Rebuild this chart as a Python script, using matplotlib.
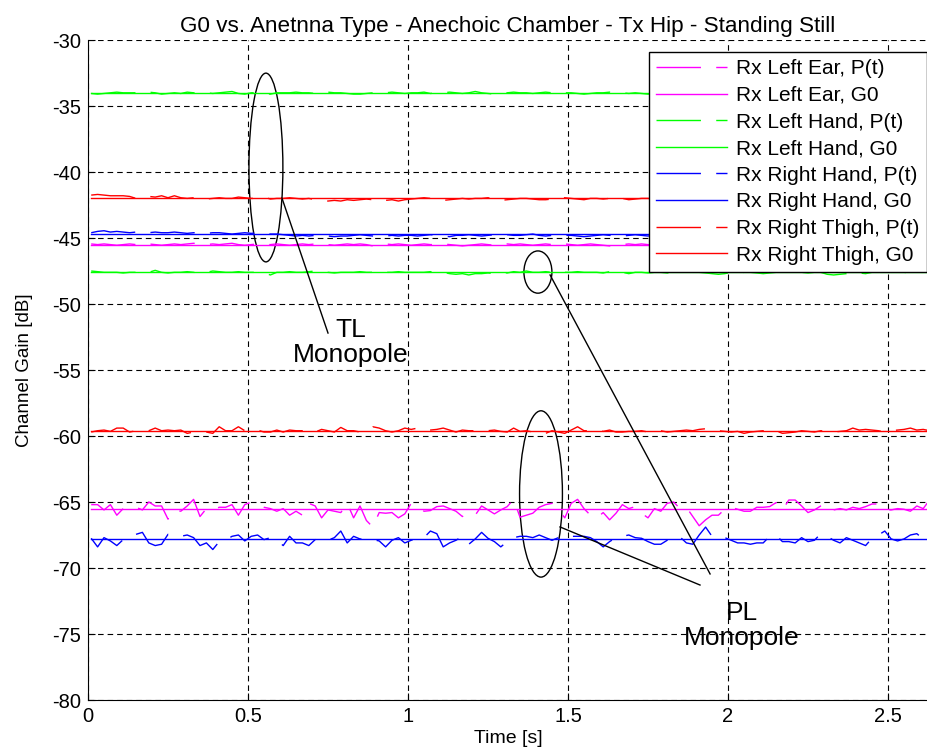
import numpy as np
import matplotlib
matplotlib.use('Agg')
import matplotlib.pyplot as plt
from matplotlib.patches import Ellipse

plt.rcParams['font.family'] = ['Liberation Sans', 'DejaVu Sans']
plt.rcParams['axes.unicode_minus'] = False

# sampling of the P(t) traces [s]
t_start = 0.01
dt = 0.02

names = ['Left Ear', 'Left Hand', 'Right Hand', 'Right Thigh']
colors = ['#ff00ff', '#00ff00', '#0000ff', '#ff0000']

# G0 [dB] for the TL monopole and the PL monopole
g0_tl = [-45.5, -34.0, -44.7, -42.0]
g0_pl = [-65.55, -47.6, -67.83, -59.6]

# P(t) [dB], TL monopole
ear_tl = [-45.45,-45.5,-45.45,-45.5,-45.55,-45.5,-45.45,-45.5,-45.4,-45.45,-45.5,-45.55,-45.5,-45.45,-45.5,-45.45,-45.4,-45.45,-45.5,-45.45,
          -45.5,-45.45,-45.4,-45.5,-45.55,-45.5,-45.45,-45.5,-45.5,-45.45,-45.5,-45.55,-45.5,-45.45,-45.5,-45.45,-45.4,-45.5,-45.55,-45.5,
          -45.45,-45.5,-45.45,-45.5,-45.6,-45.5,-45.45,-45.5,-45.45,-45.5,-45.55,-45.5,-45.45,-45.5,-45.5,-45.45,-45.5,-45.55,-45.6,-45.55,
          -45.5,-45.45,-45.5,-45.55,-45.5,-45.45,-45.5,-45.45,-45.5,-45.55,-45.5,-45.45,-45.5,-45.5,-45.45,-45.5,-45.55,-45.5,-45.45,-45.5,
          -45.55,-45.6,-45.55,-45.5,-45.45,-45.5,-45.45,-45.5,-45.55,-45.5,-45.45,-45.5,-45.5,-45.45,-45.5,-45.55,-45.5,-45.45,-45.5,-45.45,
          -45.5,-45.55,-45.5,-45.45,-45.5,-45.5,-45.45,-45.5,-45.55,-45.5,-45.45,-45.5,-45.45,-45.5,-45.55,-45.5,-45.45,-45.5,-45.5,-45.45,
          -45.5,-45.55,-45.5,-45.45,-45.5,-45.45,-45.5,-45.55,-45.5,-45.45,-45.5,-45.5]
hand_l_tl = [-34.05,-34.1,-34.05,-34.0,-33.95,-34.0,-34.0,-34.0,-34.05,-33.95,-34.0,-34.1,-34.05,-34.0,-34.05,-33.95,-34.0,-34.0,-34.0,-34.05,
             -34.0,-33.95,-33.9,-34.05,-34.1,-34.0,-34.0,-34.05,-34.1,-34.0,-34.0,-34.0,-33.95,-34.0,-34.0,-34.05,-34.0,-33.95,-34.0,-34.0,
             -34.05,-34.1,-34.1,-34.05,-34.0,-34.0,-34.0,-33.95,-34.0,-34.05,-34.0,-34.0,-33.95,-34.05,-34.0,-34.0,-33.95,-34.0,-34.05,-34.0,
             -33.9,-34.0,-34.05,-34.1,-34.0,-34.0,-33.95,-34.0,-34.0,-34.05,-34.0,-33.95,-34.0,-34.05,-34.0,-34.0,-34.05,-34.1,-34.05,-34.0,
             -34.0,-33.95,-34.0,-34.0,-34.05,-34.0,-34.05,-34.1,-34.05,-34.0,-34.0,-33.95,-34.0,-34.0,-34.05,-34.0,-34.0,-33.95,-34.0,-34.05,
             -34.1,-34.05,-34.0,-34.0,-34.0,-33.95,-34.0,-34.05,-34.0,-34.0,-34.05,-34.0,-33.95,-34.0,-34.0,-34.05,-34.1,-34.05,-34.0,-34.0,
             -34.0,-33.95,-34.0,-34.05,-34.0,-34.0,-34.05,-34.0,-33.95,-34.0,-34.0,-34.05]
hand_r_tl = [-44.6,-44.5,-44.45,-44.55,-44.5,-44.55,-44.6,-44.55,-44.6,-44.6,-44.55,-44.6,-44.6,-44.55,-44.6,-44.65,-44.6,-44.6,-44.65,-44.6,
             -44.6,-44.65,-44.7,-44.65,-44.6,-44.65,-44.6,-44.65,-44.7,-44.7,-44.75,-44.8,-44.85,-44.8,-44.85,-44.8,-44.8,-44.85,-44.9,-44.85,
             -44.85,-44.8,-44.75,-44.8,-44.85,-44.9,-44.85,-44.8,-44.85,-44.8,-44.8,-44.85,-44.8,-44.75,-44.8,-44.85,-44.9,-44.8,-44.8,-44.75,
             -44.8,-44.85,-44.8,-44.75,-44.7,-44.75,-44.8,-44.8,-44.75,-44.7,-44.8,-44.85,-44.8,-44.75,-44.8,-44.8,-44.85,-44.9,-44.85,-44.8,
             -44.75,-44.8,-44.8,-44.85,-44.8,-44.75,-44.8,-44.85,-44.8,-44.8,-44.75,-44.8,-44.85,-44.9,-44.85,-44.8,-44.8,-44.75,-44.8,-44.85,
             -44.8,-44.8,-44.75,-44.8,-44.85,-44.8,-44.8,-44.85,-44.9,-44.85,-44.8,-44.75,-44.8,-44.8,-44.85,-44.8,-44.75,-44.8,-44.85,-44.8,
             -44.8,-44.75,-44.8,-44.85,-44.8,-44.8,-44.75,-44.8,-44.85,-44.8,-44.8,-44.75]
thigh_tl = [-41.75,-41.7,-41.75,-41.8,-41.8,-41.8,-41.85,-42.0,-41.95,-41.85,-41.9,-41.8,-41.95,-41.8,-41.95,-42.0,-41.95,-42.0,-42.05,-42.0,
            -41.95,-42.0,-42.0,-41.9,-41.95,-42.0,-42.0,-41.9,-42.05,-42.0,-42.0,-41.95,-42.0,-42.05,-42.0,-42.1,-42.15,-42.2,-42.15,-42.2,
            -42.1,-42.15,-42.1,-42.05,-42.1,-42.0,-42.15,-42.1,-42.2,-42.1,-42.05,-42.0,-41.95,-42.0,-42.1,-42.15,-42.1,-42.05,-42.0,-42.05,
            -42.0,-42.0,-41.95,-42.05,-42.15,-42.1,-42.05,-42.0,-42.0,-42.05,-42.1,-42.1,-42.05,-42.0,-41.95,-42.0,-42.05,-42.1,-42.0,-42.0,
            -42.05,-42.0,-41.95,-42.0,-42.1,-42.05,-42.0,-42.0,-42.05,-42.1,-42.05,-42.0,-42.0,-41.95,-42.0,-42.05,-42.0,-42.0,-42.1,-42.05,
            -42.0,-41.95,-42.0,-42.05,-42.0,-42.0,-42.05,-42.1,-42.05,-42.0,-42.0,-41.95,-42.0,-42.05,-42.0,-42.0,-42.1,-42.05,-42.0,-41.95,
            -42.0,-42.0,-42.05,-42.0,-41.95,-42.0,-42.05,-42.0,-42.0,-42.05,-42.0,-41.95]

# P(t) [dB], PL monopole
ear_pl = [-65.2,-65.2,-65.6,-65.2,-66.0,-65.5,-65.4,-65.4,-65.6,-65.0,-65.3,-65.3,-66.3,-65.6,-65.7,-65.3,-64.8,-66.1,-65.5,-65.6,
          -65.4,-65.4,-65.2,-66.0,-65.2,-65.0,-65.2,-65.4,-65.5,-65.7,-65.5,-66.0,-65.7,-66.0,-65.1,-65.3,-66.2,-65.6,-65.7,-65.8,
          -65.1,-66.2,-65.3,-66.4,-66.9,-65.8,
          -65.85,-65.8,-66.2,-65.9,-65.1,-65.3,-65.7,-65.65,-65.35,-65.3,-65.5,-65.7,-66.1,-65.8,-66.0,-65.3,-65.6,-65.9,-65.6,-65.35,
          -64.8,-66.15,-66.0,-65.85,-65.4,-65.2,-65.1,-65.6,-66.2,-65.1,-64.8,-65.5,-66.0,-66.2,-65.8,-66.35,-65.85,-65.2,-65.5,-65.35,
          -65.85,-66.2,-65.5,-65.7,
          -65.1,-65.0,-65.5,-65.4,-66.1,-66.8,-66.35,-66.0,-66.0,-65.55,-65.4,-65.55,-65.7,-65.7,-65.4,-65.4,-65.35,-65.05,-65.6,-64.85,
          -64.85,-65.3,-65.8,-65.6,-65.3,-65.15,-65.6,-65.5,-65.6,-65.4,-65.5,-65.35,-65.15,-65.15,-65.6,-65.6,-65.5,-65.55,-65.7,-65.3,
          -65.5,-64.85]
hand_l_pl = [-47.5,-47.55,-47.6,-47.6,-47.6,-47.65,-47.6,-47.6,-47.55,-47.6,-47.45,-47.6,-47.65,-47.6,-47.6,-47.55,-47.6,-47.65,-47.6,-47.5,
             -47.55,-47.6,-47.6,-47.55,-47.6,-47.6,-47.6,-47.65,-47.8,-47.6,-47.6,-47.55,-47.6,-47.6,-47.55,-47.5,-47.6,-47.6,-47.65,-47.6,
             -47.6,-47.6,-47.55,-47.6,-47.6,-47.65,-47.6,-47.6,-47.55,-47.6,-47.6,-47.6,-47.6,-47.55,-47.6,-47.6,-47.7,-47.75,-47.7,-47.8,
             -47.7,-47.7,-47.65,-47.7,-47.6,-47.65,-47.55,-47.6,-47.5,-47.6,-47.6,-47.55,-47.6,-47.65,-47.6,-47.6,-47.55,-47.6,-47.6,-47.6,
             -47.65,-47.55,-47.6,-47.6,-47.7,-47.6,-47.6,-47.65,-47.6,-47.6,-47.65,-47.6,-47.6,-47.55,-47.6,-47.6,-47.65,-47.7,-47.75,-47.7,
             -47.6,-47.65,-47.6,-47.6,-47.65,-47.7,-47.65,-47.6,-47.55,-47.6,-47.6,-47.6,-47.65,-47.6,-47.6,-47.75,-47.8,-47.75,-47.7,-47.6,
             -47.65,-47.7,-47.6,-47.6,-47.55,-47.6,-47.6,-47.6,-47.65,-47.6,-47.6,-47.55]
hand_r_pl = [-67.75,-68.4,-67.7,-67.95,-68.3,-67.85,-67.6,-67.45,-67.3,-68.1,-68.3,-68.2,-67.45,-67.6,-67.6,-67.5,-67.7,-68.3,-68.1,-68.6,
             -68.0,-67.9,-67.6,-67.5,-67.95,-67.6,-67.5,-67.85,-67.7,-67.9,-68.3,-67.6,-68.1,-68.1,-68.3,-67.85,-67.9,-67.9,-67.7,-67.2,
             -68.1,-67.6,-67.8,-67.8,-67.85,-67.95,
             -68.4,-67.9,-67.7,-68.1,-67.9,-67.7,-67.7,-67.2,-67.4,-68.4,-68.1,-67.9,-67.6,-68.2,-67.8,-67.3,-67.75,-68.0,-68.4,-68.0,
             -67.7,-67.6,-67.6,-67.7,-67.5,-67.7,-67.9,-67.7,-67.5,-67.6,-67.6,-67.6,-67.7,-68.0,-68.4,-68.0,-67.7,-67.6,-67.5,-67.7,
             -67.75,-68.0,-68.2,-68.2,
             -67.9,-67.6,-67.65,-68.1,-68.2,-67.5,-66.9,-67.6,-67.7,-67.7,-67.9,-68.1,-68.1,-68.2,-68.1,-68.1,-67.6,-67.5,-68.0,-68.0,
             -68.1,-67.7,-68.0,-67.9,-67.4,-67.6,-67.9,-68.1,-67.7,-67.9,-68.1,-68.3,-67.75,-67.5,-67.2,-67.8,-67.95,-67.8,-67.5,-67.4,
             -67.8,-68.1]
thigh_pl = [-59.7,-59.6,-59.55,-59.65,-59.4,-59.4,-59.7,-59.6,-59.6,-59.6,-59.4,-59.6,-59.55,-59.6,-59.55,-59.8,-59.7,-59.7,-59.7,-59.8,
            -59.3,-59.6,-59.6,-59.3,-59.6,-59.6,-59.55,-59.7,-59.7,-59.55,-59.7,-59.55,-59.6,-59.6,-59.5,-59.7,-59.5,-59.6,-59.7,-59.35,
            -59.6,-59.6,-59.7,-59.6,-59.3,-59.4,
            -59.6,-59.7,-59.6,-59.4,-59.5,-59.4,-59.6,-59.55,-59.5,-59.4,-59.55,-59.7,-59.55,-59.6,-59.6,-59.55,-59.6,-59.55,-59.65,-59.7,
            -59.4,-59.65,-59.6,-59.7,-59.8,-59.8,-59.6,-59.7,-59.8,-59.55,-59.3,-59.6,-59.6,-59.55,-59.65,-59.55,-59.7,-59.7,-59.65,-59.65,
            -59.6,-59.7,-59.7,-59.6,
            -59.7,-59.65,-59.6,-59.55,-59.6,-59.5,-59.45,-59.6,-59.6,-59.65,-59.7,-59.65,-59.8,-59.7,-59.65,-59.6,-59.7,-59.6,-59.8,-59.75,
            -59.7,-59.6,-59.65,-59.7,-59.6,-59.65,-59.7,-59.65,-59.6,-59.4,-59.55,-59.5,-59.55,-59.6,-59.7,-59.6,-59.55,-59.5,-59.4,-59.55,
            -59.5,-59.6]

p_tl = [ear_tl, hand_l_tl, hand_r_tl, thigh_tl]
p_pl = [ear_pl, hand_l_pl, hand_r_pl, thigh_pl]

fig = plt.figure(figsize=(9.28, 7.53), dpi=100)
ax = fig.add_axes([88/928, 53/753, 840/928, 660/753])

handles = []
labels = []
for i in range(4):
    c = colors[i]
    for tr in [p_tl[i], p_pl[i]]:
        t = t_start + dt*np.arange(len(tr))
        lp, = ax.plot(t, tr, color=c, lw=1.0, ls=(0, (32, 11)))
    tmax = t_start + dt*(len(p_tl[i]) - 1)
    for g in [g0_tl[i], g0_pl[i]]:
        lg, = ax.plot([t_start, tmax], [g, g], color=c, lw=1.0)
    handles += [lp, lg]
    labels += ['Rx ' + names[i] + ', P(t)', 'Rx ' + names[i] + ', G0']

# ellipses and callouts
ax.add_patch(Ellipse((0.556, -39.66), 0.106, 14.3, fill=False, ec='k', lw=1))
ax.add_patch(Ellipse((1.406, -47.58), 0.0875, 3.2, fill=False, ec='k', lw=1))
ax.add_patch(Ellipse((1.4156, -64.39), 0.134, 12.6, fill=False, ec='k', lw=1))
ax.plot([0.606, 0.75], [-41.97, -52.2], color='k', lw=1)
ax.plot([1.444, 1.944], [-47.8, -70.45], color='k', lw=1)
ax.plot([1.475, 1.9125], [-66.89, -71.29], color='k', lw=1)
ax.text(0.822, -52.95, 'TL\nMonopole', ha='center', va='center', fontsize=19, linespacing=1.05)
ax.text(2.044, -74.35, 'PL\nMonopole', ha='center', va='center', fontsize=19, linespacing=1.05)

ax.set_xlim(0, 2.625)
ax.set_ylim(-80, -30)
ax.set_xticks([0, 0.5, 1, 1.5, 2, 2.5])
ax.set_xticklabels(['0', '0.5', '1', '1.5', '2', '2.5'])
ax.set_yticks(np.arange(-80, -29, 5))
ax.grid(True, color='k', lw=0.8, ls=(0, (5, 3.6)))
ax.spines['top'].set_visible(False)
ax.spines['right'].set_visible(False)
ax.tick_params(direction='in', length=5, labelsize=14.5, pad=5)

ax.set_title('G0 vs. Anetnna Type - Anechoic Chamber - Tx Hip - Standing Still', fontsize=16.2, pad=6)
ax.set_xlabel('Time [s]', fontsize=14, labelpad=3)
ax.set_ylabel('Channel Gain [dB]', fontsize=13.5, labelpad=14)

leg = ax.legend(handles, labels, loc='upper right', bbox_to_anchor=(927/928, 1 - 52/753),
                bbox_transform=fig.transFigure, borderaxespad=0, fontsize=15,
                handlelength=3.4, handletextpad=0.45, labelspacing=0.365, borderpad=0.35,
                fancybox=False, framealpha=1)
leg.get_frame().set_edgecolor('k')
leg.get_frame().set_linewidth(1.0)

fig.savefig('out.png', dpi=100)
